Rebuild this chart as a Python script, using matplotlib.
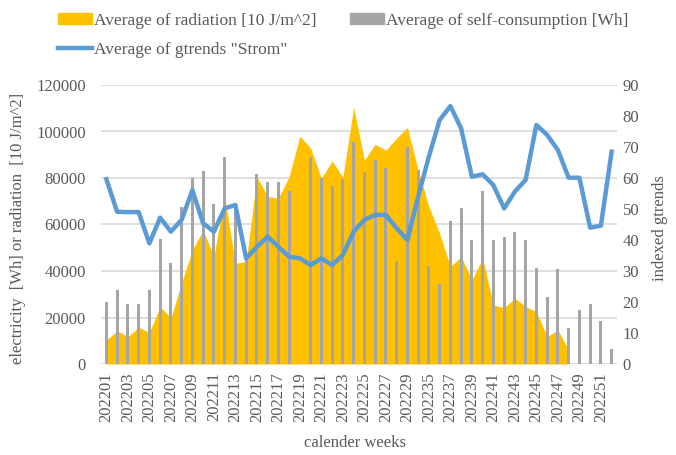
import matplotlib
matplotlib.use('Agg')
import matplotlib.pyplot as plt
import numpy as np
from matplotlib.patches import Patch
from matplotlib.lines import Line2D

# calendar weeks (weeks 30-33 not in the data)
weeks = ["2022%02d" % w for w in range(1, 30)] + ["202234"] + \
        ["2022%02d" % w for w in range(35, 53)]

# Average of radiation [10 J/m^2] (no data after 202247)
radiation = [10300, 14300, 11800, 15800, 13600, 24700, 19700, 35000, 49000, 57600,
             46200, 72000, 43300, 44000, 80600, 72000, 71300, 80600, 98000, 92800,
             79900, 87300, 80300, 110500, 87700, 94500, 92000, 97100, 101800, 83400,
             67700, 56200, 41900, 46200, 36100, 45500, 25400, 24200, 28300, 24700,
             22500, 11800, 14600, 6000, np.nan, np.nan, np.nan, np.nan]

# Average of self-consumption [Wh]
selfcons = [26500, 31800, 25700, 25700, 31800, 53600, 43600, 67700, 80200, 83000,
            68700, 89200, 68400, 46500, 81600, 78400, 78400, 74400, 0, 88900,
            80200, 76600, 79700, 95600, 82500, 87700, 84200, 44300, 93500, 83400,
            42300, 34400, 61600, 67200, 53300, 74500, 53300, 54800, 56600, 53300,
            41400, 28700, 40900, 15400, 23200, 25700, 18600, 6300]

# Average of gtrends "Strom" (index, right axis)
gtrends = [59.6, 49.1, 49.0, 49.0, 38.9, 47.2, 42.7, 46.5, 56.1, 45.4,
           42.7, 50.2, 51.3, 34.1, 37.8, 41.1, 37.8, 34.6, 34.1, 31.9,
           34.1, 31.9, 35.2, 42.7, 46.5, 48.1, 48.1, 43.8, 40.0, 54.0,
           66.9, 78.7, 83.2, 76.0, 60.4, 61.2, 57.7, 50.2, 55.6, 59.4,
           77.1, 73.9, 69.0, 60.1, 60.1, 44.0, 44.6, 68.5]

YELLOW = '#FFC000'
GRAY = '#A5A5A5'
BLUE = '#5B9BD5'
TXT = '#595959'

plt.rcParams['font.family'] = ['Liberation Serif', 'DejaVu Serif']

fig = plt.figure(figsize=(6.76, 4.55), dpi=100)
ax = fig.add_axes([101/676, 1 - 364/455, 516/676, 279/455])

x = np.arange(len(weeks))
rad = np.array(radiation, dtype=float)
ok = ~np.isnan(rad)
ax.fill_between(x[ok], 0, rad[ok], color=YELLOW, lw=0, zorder=2)
ax.bar(x, selfcons, width=0.3, color=GRAY, zorder=3)

ax.set_xlim(-0.5, len(weeks) - 0.5)
ax.set_ylim(0, 120000)
ax.set_yticks(np.arange(0, 120001, 20000))
ax.set_xticks(x[::2])
ax.set_xticklabels(weeks[::2], rotation=90)
ax.grid(axis='y', color='#D9D9D9', lw=1.2, zorder=0)
ax.set_axisbelow(True)
for s in ax.spines.values():
    s.set_visible(False)
ax.tick_params(axis='y', length=0, pad=11, labelsize=12, labelcolor=TXT)
ax.tick_params(axis='x', length=0, pad=6, labelsize=12, labelcolor=TXT)

ax2 = ax.twinx()
ax2.plot(x, gtrends, color=BLUE, lw=3.2, solid_joinstyle='round', zorder=4)
ax2.set_ylim(0, 90)
ax2.set_yticks(np.arange(0, 91, 10))
for s in ax2.spines.values():
    s.set_visible(False)
ax2.tick_params(axis='y', length=0, pad=4, labelsize=12, labelcolor=TXT)

fig.text(18/676, 1 - 228/455, "electricity  [Wh] or radiation  [10 J/m^2]",
         rotation=90, ha='center', va='center', fontsize=12, color=TXT)
fig.text(660/676, 1 - 228/455, "indexed gtrends",
         rotation=90, ha='center', va='center', fontsize=12, color=TXT)
fig.text(355/676, 1 - 443/455, "calender weeks",
         ha='center', va='center', fontsize=12, color=TXT)

handles = [Patch(color=YELLOW), Line2D([], [], color=BLUE, lw=3.2),
           Patch(color=GRAY)]
labels = ["Average of radiation [10 J/m^2]", 'Average of gtrends "Strom"',
          "Average of self-consumption [Wh]"]
fig.legend(handles, labels, ncol=2, loc='upper left',
           bbox_to_anchor=(42/676, 1 + 3/455), frameon=False,
           fontsize=12.5, handlelength=2.0, handleheight=0.6,
           handletextpad=0.1, columnspacing=1.9, labelspacing=0.75,
           labelcolor=TXT)

fig.savefig('out.png', dpi=100)
